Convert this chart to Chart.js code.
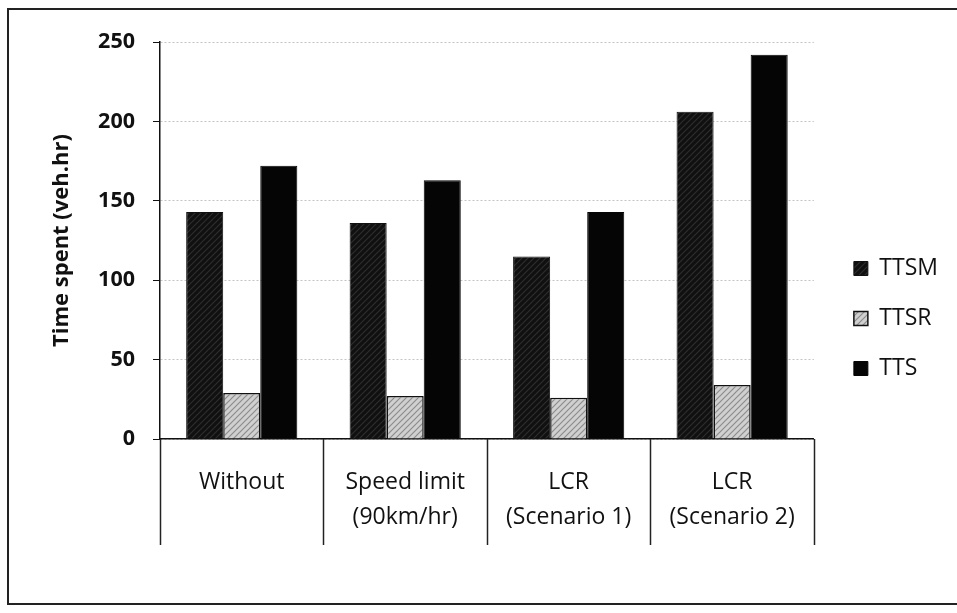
<!DOCTYPE html>
<html>
<head>
<meta charset="utf-8">
<script src="https://cdn.jsdelivr.net/npm/chart.js@4/dist/chart.umd.min.js"></script>
<style>
  html, body { margin: 0; padding: 0; background: #fff; overflow: hidden; }
  #wrap { position: relative; width: 957px; height: 613px; }
  #frame { position: absolute; left: 7px; top: 8px; width: 970px; height: 597px; border: 2px solid #222; box-sizing: border-box; }
  canvas { position: absolute; left: 0; top: 0; }
</style>
</head>
<body>
<div id="wrap">
  <div id="frame"></div>
  <canvas id="barChart" width="957" height="613"></canvas>
</div>
<script>
// categories and series values (veh.hr)
const categories = [["Without"], ["Speed limit", "(90km/hr)"], ["LCR", "(Scenario 1)"], ["LCR", "(Scenario 2)"]];
const seriesNames = ["TTSM", "TTSR", "TTS"];
const ttsm = [143, 136, 115, 206];
const ttsr = [29, 27, 26, 34];
const tts = [172, 163, 143, 242];
const yTicks = [0, 50, 100, 150, 200, 250];

// diagonal hatch fill like the scanned print
function hatch(base, line) {
    const c = document.createElement("canvas");
    c.width = 6; c.height = 6;
    const g = c.getContext("2d");
    g.fillStyle = base;
    g.fillRect(0, 0, 6, 6);
    g.strokeStyle = line;
    g.lineWidth = 1.2;
    g.beginPath();
    g.moveTo(0, 6); g.lineTo(6, 0);
    g.moveTo(-3, 3); g.lineTo(3, -3);
    g.moveTo(3, 9); g.lineTo(9, 3);
    g.stroke();
    return g.createPattern(c, "repeat");
}

// vertical separators under the category axis
const separators = {
    id: "separators",
    afterDraw(chart) {
        const x = chart.scales.x;
        const area = chart.chartArea;
        const ctx = chart.ctx;
        const xs = [area.left];
        for (let i = 1; i < categories.length; i++) {
            xs.push((x.getPixelForValue(i - 1) + x.getPixelForValue(i)) / 2);
        }
        xs.push(area.right);
        ctx.save();
        ctx.strokeStyle = "#222";
        ctx.lineWidth = 1.5;
        xs.forEach(px => {
            ctx.beginPath();
            ctx.moveTo(Math.round(px) + 0.5, area.bottom);
            ctx.lineTo(Math.round(px) + 0.5, area.bottom + 106);
            ctx.stroke();
        });
        ctx.restore();
    }
};

// legend sits a bit away from the plot and slightly above centre
const legendNudge = {
    id: "legendNudge",
    afterLayout(chart) {
        const l = chart.legend;
        const dx = chart.chartArea.right + 40 - (l.left + l.options.labels.padding);
        l.left += dx; l.right += dx;
        l.top -= 9; l.bottom -= 9;
    }
};

const ctx = document.getElementById("barChart").getContext("2d");
new Chart(ctx, {
    type: "bar",
    data: {
        labels: categories,
        datasets: [
            { label: seriesNames[0], data: ttsm, backgroundColor: hatch("#101010", "#2e2e2e"), borderColor: "#111", borderWidth: 1 },
            { label: seriesNames[1], data: ttsr, backgroundColor: hatch("#d0d0d0", "#8c8c8c"), borderColor: "#111", borderWidth: 1.5 },
            { label: seriesNames[2], data: tts, backgroundColor: "#050505", borderColor: "#050505", borderWidth: 1 }
        ]
    },
    options: {
        responsive: false,
        animation: false,
        categoryPercentage: 0.68,
        barPercentage: 1.0,
        layout: { padding: { left: 49, top: 42, bottom: 0, right: 22 } },
        scales: {
            x: {
                grid: { display: false },
                border: { display: true, color: "#111", width: 1.5 },
                ticks: {
                    color: "#111",
                    padding: 18,
                    maxRotation: 0,
                    font: { family: "Open Sans", size: 23, lineHeight: 1.52 }
                },
                afterFit(scale) { scale.height = 174; }
            },
            y: {
                min: 0,
                max: 250,
                afterBuildTicks(scale) { scale.ticks = yTicks.map(v => ({ value: v })); },
                grid: { color: "#c4c4c4", lineWidth: 1, tickLength: 7, tickColor: "#111" },
                border: { display: true, color: "#111", width: 1.5, dash: [2, 2] },
                ticks: {
                    color: "#111",
                    padding: 18,
                    font: { family: "Open Sans", size: 21.5, weight: "bold" }
                },
                title: {
                    display: true,
                    text: "Time spent (veh.hr)",
                    color: "#111",
                    padding: 0,
                    font: { family: "Open Sans", size: 22, weight: "bold" }
                },
                afterFit(scale) { scale.width = 111; }
            }
        },
        plugins: {
            tooltip: { enabled: false },
            legend: {
                position: "right",
                labels: {
                    color: "#111",
                    boxWidth: 14,
                    boxHeight: 14,
                    padding: 27,
                    font: { family: "Open Sans", size: 23 }
                }
            }
        }
    },
    plugins: [separators, legendNudge]
});
</script>
</body>
</html>
